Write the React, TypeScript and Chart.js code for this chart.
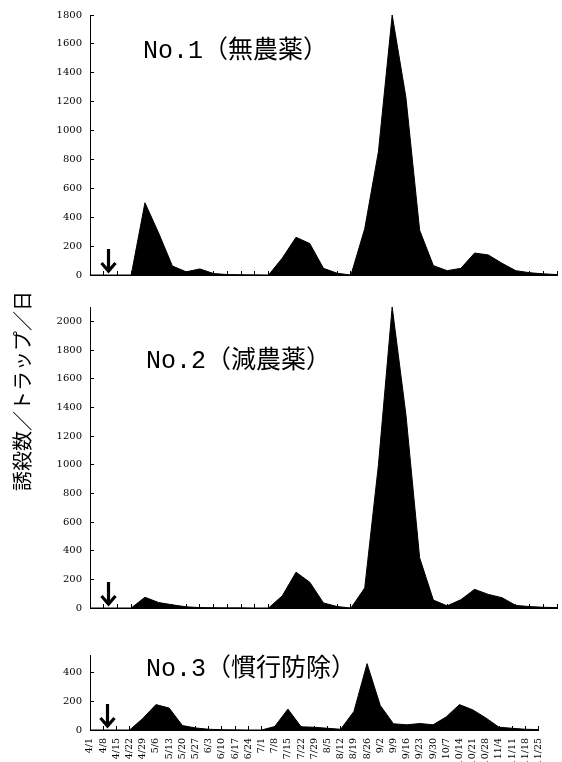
import React, { useEffect, useRef } from "react";
import { Chart, registerables } from "chart.js";

Chart.register(...registerables);

// ---- data ----
const weeks = [
  "4/1", "4/8", "4/15", "4/22", "4/29", "5/6", "5/13", "5/20", "5/27",
  "6/3", "6/10", "6/17", "6/24", "7/1", "7/8", "7/15", "7/22", "7/29",
  "8/5", "8/12", "8/19", "8/26", "9/2", "9/9", "9/16", "9/23", "9/30",
  "10/7", "10/14", "10/21", "10/28", "11/4", "11/11", "11/18", "11/25",
];

const no1Values = [
  0, 0, 0, 0, 500, 290, 62, 22, 42, 10, 3, 2, 1, 0, 117, 261, 218, 46, 12, 0,
  320, 855, 1800, 1230, 310, 65, 30, 46, 152, 139, 81, 30, 16, 8, 3,
];
const no2Values = [
  0, 0, 0, 0, 75, 38, 22, 8, 3, 2, 1, 1, 0, 0, 85, 250, 180, 35, 10, 0,
  140, 1000, 2100, 1350, 350, 55, 15, 58, 130, 95, 72, 18, 10, 5, 3,
];
const no3Values = [
  0, 0, 0, 0, 80, 176, 152, 31, 14, 5, 2, 1, 0, 0, 24, 145, 22, 19, 12, 5,
  128, 460, 170, 43, 36, 45, 36, 91, 176, 140, 84, 19, 12, 5, 3,
];

const panelTitles = ["No.1（無農薬）", "No.2（減農薬）", "No.3（慣行防除）"];
const yAxisTitle = "誘殺数／トラップ／日";
const yMaxes = [1800, 2100, 520];
const yStep = 200;
const arrowAt = 1.3; // category position of the arrow (between 4/8 and 4/15)

const serif = '"DejaVu Serif", "Liberation Serif", serif';
const Y_FONT = 10;
const Y_PAD = 12;
// Chart.js reserves half a label height plus the tick padding above/below a vertical axis
const Y_EDGE = (Y_FONT * 1.2) / 2 + Y_PAD;

type PanelProps = {
  values: number[];
  max: number;
  plotTop: number;
  plotBottom: number;
  xHeight: number;
  showLabels: boolean;
};

function Panel({ values, max, plotTop, plotBottom, xHeight, showLabels }: PanelProps) {
  const ref = useRef<HTMLCanvasElement | null>(null);
  const canvasTop = plotTop - Y_EDGE;
  const canvasHeight = plotBottom + Math.max(Y_EDGE, xHeight) - canvasTop;
  useEffect(() => {
    if (!ref.current) return;
    const arrowPlugin = {
      id: "arrowMark",
      afterDatasetsDraw(chart: any) {
        const xs = chart.scales.x;
        const x = Math.round(xs.getPixelForValue(arrowAt)) + 0.5;
        const base = chart.chartArea.bottom;
        const ctx = chart.ctx;
        const tip = base - 3;
        const topY = tip - 23;
        ctx.save();
        ctx.strokeStyle = "#000";
        ctx.lineWidth = 3.2;
        ctx.lineCap = "butt";
        ctx.lineJoin = "miter";
        ctx.beginPath();
        ctx.moveTo(x, topY);
        ctx.lineTo(x, tip - 2);
        ctx.stroke();
        ctx.beginPath();
        ctx.moveTo(x - 7, tip - 9);
        ctx.lineTo(x, tip - 1);
        ctx.lineTo(x + 7, tip - 9);
        ctx.stroke();
        ctx.restore();
      },
    };
    const gridOpts = {
      display: true,
      drawOnChartArea: false,
      drawTicks: true,
      tickLength: -4,
      color: "#000",
      lineWidth: 1,
    };
    const chart = new Chart(ref.current, {
      type: "line",
      data: {
        labels: weeks,
        datasets: [
          {
            data: values,
            fill: "origin",
            backgroundColor: "#000",
            borderColor: "#000",
            borderWidth: 1,
            pointRadius: 0,
            tension: 0,
          },
        ],
      },
      options: {
        animation: false,
        responsive: false,
        maintainAspectRatio: false,
        layout: { padding: { top: 0, right: 5, left: 0, bottom: 0 } },
        plugins: { legend: { display: false }, tooltip: { enabled: false }, title: { display: false } },
        scales: {
          x: {
            type: "category",
            offset: false,
            grid: gridOpts,
            border: { display: true, color: "#000", width: 1 },
            ticks: {
              display: showLabels,
              autoSkip: false,
              maxRotation: 90,
              minRotation: 90,
              padding: 12,
              color: "#000",
              font: { family: serif, size: 9.5 },
            },
            afterFit(s: any) {
              s.height = xHeight;
            },
          },
          y: {
            min: 0,
            max,
            grid: gridOpts,
            border: { display: true, color: "#000", width: 1 },
            ticks: {
              stepSize: yStep,
              padding: Y_PAD,
              color: "#000",
              font: { family: serif, size: Y_FONT },
              callback: (v: any) => String(v),
            },
            afterBuildTicks(s: any) {
              s.ticks = s.ticks.filter((t: any) => t.value % yStep === 0);
            },
            afterFit(s: any) {
              s.width = 90;
            },
          },
        },
      } as any,
      plugins: [arrowPlugin],
    });
    return () => chart.destroy();
  }, [values, max, plotTop, plotBottom, xHeight, showLabels]);
  return (
    <canvas
      ref={ref}
      width={562}
      height={canvasHeight}
      style={{ position: "absolute", left: 0, top: canvasTop, width: 562, height: canvasHeight }}
    />
  );
}

function Title({ text, left, centerY }: { text: string; left: number; centerY: number }) {
  const m = text.match(/^([A-Za-z0-9.]+)(.*)$/);
  const latin = m ? m[1] : "";
  const rest = m ? m[2] : text;
  return (
    <div
      style={{
        position: "absolute",
        left,
        top: centerY,
        transform: "translateY(-50%)",
        whiteSpace: "nowrap",
        lineHeight: 1,
        color: "#000",
      }}
    >
      <span style={{ fontFamily: '"Liberation Mono", monospace', fontSize: 25 }}>{latin}</span>
      <span style={{ fontFamily: '"Noto Sans CJK JP", sans-serif', fontSize: 25 }}>{rest}</span>
    </div>
  );
}

export default function App() {
  return (
    <div
      style={{
        position: "fixed",
        left: 0,
        top: 0,
        width: 562,
        height: 762,
        background: "#fff",
        overflow: "hidden",
      }}
    >
      <Panel values={no1Values} max={yMaxes[0]} plotTop={15} plotBottom={275} xHeight={15} showLabels={false} />
      <Panel values={no2Values} max={yMaxes[1]} plotTop={307} plotBottom={608} xHeight={12} showLabels={false} />
      <Panel values={no3Values} max={yMaxes[2]} plotTop={655} plotBottom={730} xHeight={32} showLabels={true} />
      <Title text={panelTitles[0]} left={143} centerY={49} />
      <Title text={panelTitles[1]} left={146} centerY={359} />
      <Title text={panelTitles[2]} left={146} centerY={667} />
      <div
        style={{
          position: "absolute",
          left: 22,
          top: 391,
          transform: "translate(-50%, -50%) rotate(-90deg)",
          whiteSpace: "nowrap",
          fontFamily: '"Noto Sans CJK JP", sans-serif',
          fontSize: 20,
          lineHeight: 1,
          color: "#000",
        }}
      >
        {yAxisTitle}
      </div>
    </div>
  );
}
